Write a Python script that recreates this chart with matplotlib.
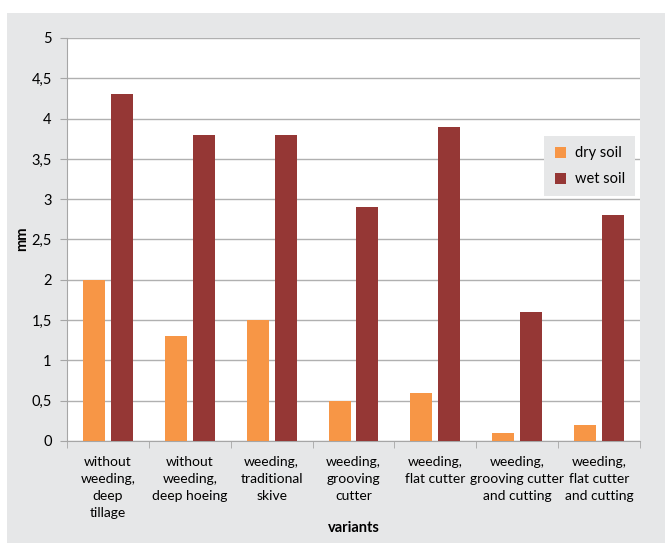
import matplotlib
matplotlib.use("Agg")
import matplotlib.pyplot as plt
from matplotlib.patches import Rectangle
import numpy as np

# ===================== data =====================
categories = [
    "without\nweeding,\ndeep\ntillage",
    "without\nweeding,\ndeep hoeing",
    "weeding,\ntraditional\nskive",
    "weeding,\ngrooving\ncutter",
    "weeding,\nflat cutter",
    "weeding,\ngrooving cutter\nand cutting",
    "weeding,\nflat cutter\nand cutting",
]
dry_soil = [2.0, 1.3, 1.5, 0.5, 0.6, 0.1, 0.2]
wet_soil = [4.3, 3.8, 3.8, 2.9, 3.9, 1.6, 2.8]
y_ticks = [0, 0.5, 1, 1.5, 2, 2.5, 3, 3.5, 4, 4.5, 5]

plt.rcParams["font.family"] = ["Lato", "DejaVu Sans"]

W, H = 665, 546
fig = plt.figure(figsize=(W / 100, H / 100), dpi=100)
fig.patch.set_facecolor("white")
# grey panel behind the chart
fig.patches.append(Rectangle((7 / W, 3 / H), 1, 530 / H, transform=fig.transFigure,
                             facecolor="#E6E7E8", edgecolor="none", zorder=-10))

ax = fig.add_axes([67 / W, 1 - 441 / H, 573 / W, 403 / H])
ax.set_facecolor("white")

x = np.arange(len(categories))
bw = 0.27
off = 0.17
ax.bar(x - off, dry_soil, bw, color="#F79646", label="dry soil", zorder=3)
ax.bar(x + off, wet_soil, bw, color="#953735", label="wet soil", zorder=3)

ax.set_xlim(-0.5, len(categories) - 0.5)
ax.set_ylim(0, 5)
ax.set_yticks(y_ticks)
ax.set_yticklabels([("%g" % v).replace(".", ",") for v in y_ticks], fontsize=10.5)
ax.yaxis.grid(True, color="#B0B0B0", linewidth=1, zorder=0)

ax.set_xticks(x)
ax.set_xticklabels(categories, fontsize=10, linespacing=1.5, va="top")
ax.set_xticks(np.arange(len(categories) + 1) - 0.5, minor=True)
ax.tick_params(axis="x", which="major", length=0, pad=11)
ax.tick_params(axis="x", which="minor", length=5, color="#A6A6A6")
ax.tick_params(axis="y", length=5, color="#A6A6A6", pad=6)

for s in ["top", "right"]:
    ax.spines[s].set_visible(False)
for s in ["left", "bottom"]:
    ax.spines[s].set_color("#A6A6A6")

fig.text(22 / W, 1 - 239 / H, "mm", rotation=90, fontsize=10.5, fontweight="bold",
         ha="center", va="center")
fig.text((67 + 573 / 2) / W, 1 - 528 / H, "variants", fontsize=10.5, fontweight="bold",
         ha="center", va="center")

leg = ax.legend(loc="upper left", bbox_to_anchor=((537 - 67) / 573, (441 - 129) / 403),
                frameon=True, fancybox=False, fontsize=10.5, handlelength=0.8,
                handleheight=0.8, borderpad=0.7, labelspacing=0.8, handletextpad=0.6)
leg.get_frame().set_facecolor("#E6E7E8")
leg.get_frame().set_edgecolor("none")
leg.get_frame().set_alpha(1)

fig.savefig("out.png", dpi=100)
